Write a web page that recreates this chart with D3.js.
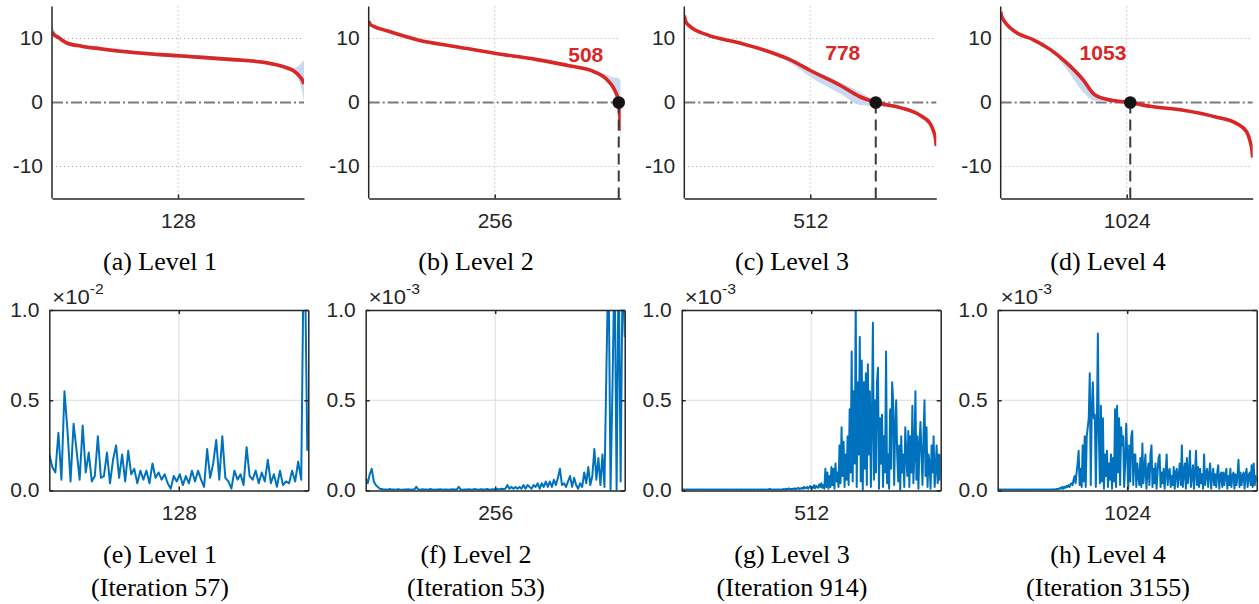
<!DOCTYPE html>
<html><head><meta charset="utf-8">
<script src="https://cdn.jsdelivr.net/npm/d3@7"></script>
<style>body{margin:0;background:#fff}svg{display:block}</style>
</head><body>
<svg id="c" width="1259" height="604"></svg>
<script>
// ---------- data ----------
const topLetters = ["(a)", "(b)", "(c)", "(d)"];
const bottomLetters = ["(e)", "(f)", "(g)", "(h)"];
const levelNames = ["Level 1", "Level 2", "Level 3", "Level 4"];
const iterations = [57, 53, 914, 3155];
const domainMax = [256, 512, 1024, 2048];
const midTicks = [128, 256, 512, 1024];
const crossings = [null, 508, 778, 1053];
const crossLabelX = [null, 441, 644, 831];
const crossLabelY = [null, 7.5, 7.8, 7.8];
const yTicksTop = [-10, 0, 10];
const yTicksBottom = [0, 0.5, 1.0];
const exponents = ["-2", "-3", "-3", "-3"];

// top row: sorted values (red) with band
const a_x = [0, 2, 7, 15, 30, 49, 83, 128, 184, 218, 235, 245, 251, 254, 256];
const a_y = [11.0, 10.6, 10.1, 9.3, 8.8, 8.4, 7.8, 7.3, 6.7, 6.2, 5.6, 5.0, 4.2, 3.6, 2.9];
const a_lo = [10.0, 10.2, 9.8, 9.0, 8.5, 8.1, 7.5, 7.0, 6.4, 5.9, 5.3, 4.6, 3.3, 1.8, 0.3];
const a_hi = [12.4, 11.4, 10.5, 9.6, 9.1, 8.7, 8.1, 7.6, 7.0, 6.5, 5.9, 5.4, 5.8, 6.3, 6.6];

const b_x = [0, 3, 10, 37, 104, 172, 255, 342, 410, 458, 485, 498, 504, 508, 510, 512];
const b_y = [12.7, 12.2, 11.9, 11.2, 9.7, 8.8, 7.7, 6.7, 5.7, 4.8, 3.5, 2.2, 1.2, 0, -2.0, -4.4];
const b_lo = [12.5, 12.0, 11.7, 11.0, 9.5, 8.6, 7.5, 6.5, 5.5, 4.6, 3.2, 1.8, 0.6, -1.2, -3.6, -7.3];
const b_hi = [12.9, 12.4, 12.1, 11.4, 9.9, 9.0, 7.9, 6.9, 5.9, 5.1, 4.3, 3.9, 3.9, 3.8, 3.6, 3.5];

const c_x = [0, 3, 8, 23, 91, 226, 362, 429, 512, 633, 714, 779, 877, 958, 999, 1012, 1020, 1024];
const c_y = [13.6, 13.0, 12.5, 11.9, 10.6, 9.3, 7.7, 6.7, 5.0, 2.7, 0.9, 0, -0.8, -2.0, -3.3, -4.4, -5.5, -6.8];
const c_lo = [13.4, 12.8, 12.3, 11.7, 10.4, 9.1, 7.5, 6.2, 4.0, 1.4, -0.4, -0.6, -1.0, -2.2, -3.5, -4.6, -5.7, -7.0];
const c_hi = [13.8, 13.2, 12.7, 12.1, 10.8, 9.5, 7.9, 6.9, 5.3, 3.2, 1.6, 0.3, -0.6, -1.8, -3.1, -4.2, -5.3, -6.6];

const d_x = [0, 5, 20, 49, 130, 266, 401, 536, 672, 753, 861, 1051, 1214, 1485, 1755, 1918, 1999, 2026, 2040, 2048];
const d_y = [14.2, 13.6, 13.0, 12.2, 10.9, 9.8, 8.3, 6.2, 3.5, 1.4, 0.5, 0, -0.6, -1.2, -2.3, -3.3, -4.6, -6.0, -7.2, -8.6];
const d_lo = [14.0, 13.4, 12.8, 12.0, 10.7, 9.6, 8.1, 5.2, 1.6, 0.3, 0.1, -0.15, -0.8, -1.4, -2.5, -3.5, -4.8, -6.2, -7.4, -8.8];
const d_hi = [14.4, 13.8, 13.2, 12.4, 11.1, 10.0, 8.5, 6.6, 3.8, 1.6, 0.7, 0.15, -0.4, -1.0, -2.1, -3.1, -4.4, -5.8, -7.0, -8.4];

// bottom row: values in displayed units (x 10^exponent), sampled every *_step
const e_step = 3;
const e_vals = [.20,.13,.10,.32,.06,.55,.33,.05,.37,.22,
 .06,.36,.10,.21,.05,.08,.30,.07,.08,.21,
 .04,.17,.25,.07,.20,.05,.22,.09,.12,.04,
 .11,.06,.11,.04,.15,.07,.10,.06,.09,.04,
 .01,.08,.05,.09,.03,.08,.04,.11,.05,.11,
 .06,.02,.23,.07,.15,.28,.06,.30,.07,.05,
 .01,.11,.06,.09,.03,.24,.08,.06,.11,.04,
 .10,.05,.17,.04,.09,.02,.11,.03,.05,.04,
 .11,.05,.16,.06,1.60,.22];

const f_step = 4;
const f_vals = [.07,.04,.09,.12,.05,.03,.02,.01,.008,.005,
 .006,.004,.008,.005,.006,.004,.007,.005,.004,.006,
 .005,.007,.004,.006,.005,.02,.006,.004,.007,.005,
 .006,.004,.008,.005,.004,.006,.005,.007,.004,.006,
 .005,.004,.006,.007,.005,.006,.02,.005,.004,.006,
 .005,.007,.004,.006,.008,.005,.004,.007,.006,.005,
 .008,.004,.006,.007,.005,.009,.006,.01,.008,.01,
 .03,.01,.02,.01,.02,.01,.02,.01,.03,.01,
 .03,.02,.01,.03,.02,.04,.01,.04,.02,.05,
 .02,.05,.02,.06,.03,.07,.12,.03,.04,.02,
 .05,.08,.02,.07,.03,.01,.04,.02,.10,.04,
 .13,.03,.08,.23,.06,.18,.03,.20,.02,.70,
 1.30,.00,.60,1.30,.00,1.30,.05,1.30,.85];

const g_step = 4;
const g_vals = [.005,.004,.006,.005,.004,.005,.006,.004,.005,.005,
 .004,.006,.005,.004,.005,.006,.005,.004,.006,.005,
 .005,.004,.006,.005,.004,.005,.006,.004,.005,.005,
 .004,.006,.005,.004,.005,.006,.005,.004,.006,.005,
 .005,.004,.006,.005,.004,.005,.006,.004,.005,.005,
 .004,.006,.005,.004,.005,.006,.005,.004,.006,.005,
 .005,.004,.006,.005,.004,.005,.006,.004,.005,.005,
 .004,.006,.005,.004,.005,.006,.005,.004,.006,.005,
 .005,.004,.006,.005,.004,.005,.006,.01,.005,.005,
 .004,.006,.005,.004,.005,.006,.005,.004,.006,.005,
 .006,.008,.005,.01,.006,.008,.012,.006,.009,.007,
 .01,.008,.012,.007,.01,.015,.008,.012,.01,.015,
 .01,.02,.012,.015,.02,.01,.018,.025,.012,.02,
 .015,.03,.012,.025,.02,.015,.035,.02,.04,.015,
 .03,.01,.12,.02,.10,.01,.08,.02,.13,.03,
 .12,.01,.15,.05,.10,.02,.25,.04,.35,.08,
 .27,.02,.20,.06,.30,.03,.45,.10,.77,.05,
 .55,.15,1.05,.02,.60,.20,.85,.05,.72,.00,
 .60,.12,.65,.03,.70,.20,.55,.02,.40,.93,
 .06,.50,.10,.60,.68,.01,.40,.15,.42,.02,
 .30,.10,.77,.04,.20,.01,.45,.12,.60,.50,
 .03,.35,.50,.20,.05,.25,.00,.30,.10,.20,
 .02,.35,.20,.08,.33,.02,.30,.10,.47,.04,
 .20,.55,.06,.30,.01,.25,.38,.20,.03,.30,
 .50,.08,.35,.02,.20,.15,.01,.25,.10,.30,
 .02,.12,.25,.04,.20,.06,.20];

const h_step = 8;
const h_vals = [.005,.004,.006,.005,.004,.005,.006,.004,.005,.005,
 .004,.006,.005,.004,.005,.006,.005,.004,.006,.005,
 .005,.004,.006,.005,.004,.005,.006,.004,.005,.005,
 .004,.006,.005,.004,.005,.006,.005,.004,.006,.005,
 .005,.004,.006,.005,.004,.005,.006,.004,.005,.005,
 .004,.006,.005,.006,.005,.007,.005,.006,.008,.006,
 .01,.01,.015,.01,.02,.01,.02,.015,.025,.02,
 .03,.02,.035,.04,.03,.06,.08,.04,.10,.15,
 .22,.03,.12,.02,.25,.05,.30,.02,.30,.35,
 .40,.65,.03,.45,.60,.40,.42,.02,.35,.87,
 .30,.04,.47,.05,.40,.01,.20,.08,.22,.02,
 .15,.06,.20,.01,.18,.05,.45,.02,.47,.10,
 .40,.03,.35,.25,.30,.02,.15,.37,.20,.01,
 .25,.05,.30,.33,.03,.20,.20,.02,.15,.08,
 .03,.18,.02,.26,.04,.12,.20,.01,.10,.15,
 .03,.20,.25,.02,.12,.04,.15,.01,.10,.18,
 .20,.02,.10,.04,.12,.01,.10,.20,.03,.10,
 .12,.02,.08,.03,.13,.01,.10,.12,.02,.09,
 .15,.03,.25,.02,.10,.15,.01,.18,.04,.10,
 .22,.02,.08,.14,.01,.10,.22,.03,.13,.02,
 .12,.04,.09,.01,.20,.03,.10,.12,.02,.09,
 .15,.01,.08,.12,.03,.09,.02,.10,.14,.01,
 .08,.10,.02,.10,.03,.09,.12,.01,.08,.03,
 .12,.02,.08,.10,.01,.09,.03,.08,.17,.02,
 .10,.03,.08,.10,.01,.09,.12,.02,.08,.10,
 .03,.14,.02,.15,.03,.08,.05];

const topSeries = [
  {x: a_x, y: a_y, lo: a_lo, hi: a_hi},
  {x: b_x, y: b_y, lo: b_lo, hi: b_hi},
  {x: c_x, y: c_y, lo: c_lo, hi: c_hi},
  {x: d_x, y: d_y, lo: d_lo, hi: d_hi}
];
const bottomSeries = [
  {step: e_step, vals: e_vals},
  {step: f_step, vals: f_vals},
  {step: g_step, vals: g_vals},
  {step: h_step, vals: h_vals}
];

// ---------- layout / style ----------
const SANS = "'Liberation Sans', Arial, Helvetica, sans-serif";
const SERIF = "'Liberation Serif', 'Times New Roman', Times, 'Nimbus Roman', 'FreeSerif', 'DejaVu Serif', serif";
const SX = 1.05;     // horizontal text stretch (sans)
const AX = "#262626";
const RED = "#d92626";
const BAND = "#c9daf0";
const BLUE = "#0072bd";

// pick caption size depending on which serif face is actually available
function textWidth(font, str) {
  const c = document.createElement("canvas").getContext("2d");
  c.font = font; return c.measureText(str).width;
}
const hasTimesLike = Math.abs(textWidth("40px 'Liberation Serif'", "(Iteration 3155) Level") -
                              textWidth("40px 'DejaVu Serif'", "(Iteration 3155) Level")) > 2;
const CAP_SIZE = hasTimesLike ? 25 : 23;
const SXS = hasTimesLike ? 1.04 : 1.02;

const topLeft = [52, 368.7, 684.3, 1000.7], topW = 252, topT = 6.5, topB = 198.5;
const botLeft = [49.3, 365.7, 681.7, 997.7], botW = 259, botT = 310, botB = 490.5;
const capCx = [160, 476, 792, 1108];

const svg = d3.select("#c");
const defs = svg.append("defs");

function styleAxisText(sel, dx) {
  sel.selectAll("text")
    .attr("font-family", SANS).attr("font-size", 20).attr("fill", AX)
    .attr("transform", `scale(${SX},1)`)
    .each(function () {
      const t = d3.select(this);
      if (dx !== undefined) t.attr("x", dx / SX);
    });
}

function caption(x, y, str) {
  svg.append("text")
    .attr("transform", `translate(${x},${y}) scale(${SXS},1)`)
    .attr("text-anchor", "middle")
    .attr("font-family", SERIF).attr("font-size", CAP_SIZE).attr("fill", "#000")
    .text(str);
}

// ---------- top row ----------
topSeries.forEach((s, i) => {
  const L = topLeft[i];
  const x = d3.scaleLinear().domain([0, domainMax[i]]).range([L, L + topW]);
  const y = d3.scaleLinear().domain([-15, 15]).range([topB, topT]);
  const g = svg.append("g");
  const cid = "clipT" + i;
  defs.append("clipPath").attr("id", cid).append("rect")
    .attr("x", L).attr("y", topT).attr("width", topW).attr("height", topB - topT);

  // dotted grid
  [10, -10].forEach(v => g.append("line")
    .attr("x1", L).attr("x2", L + topW).attr("y1", y(v)).attr("y2", y(v))
    .attr("stroke", "#a8a8a8").attr("stroke-width", 1).attr("stroke-dasharray", "1,3"));
  g.append("line").attr("x1", x(midTicks[i])).attr("x2", x(midTicks[i]))
    .attr("y1", topT).attr("y2", topB)
    .attr("stroke", "#a8a8a8").attr("stroke-width", 1).attr("stroke-dasharray", "1,3");

  // zero reference (dash-dot)
  g.append("line").attr("x1", L).attr("x2", L + topW).attr("y1", y(0)).attr("y2", y(0))
    .attr("stroke", "#7a7a7a").attr("stroke-width", 2).attr("stroke-dasharray", "11,3,2,3");

  const pts = s.x.map((xv, k) => ({x: xv, y: s.y[k], lo: s.lo[k], hi: s.hi[k]}));
  const pg = g.append("g").attr("clip-path", `url(#${cid})`);
  pg.append("path").datum(pts)
    .attr("d", d3.area().x(d => x(d.x)).y0(d => y(d.lo)).y1(d => y(d.hi)).curve(d3.curveMonotoneX))
    .attr("fill", BAND).attr("stroke", "none");

  // crossing vertical dashed line
  if (crossings[i] !== null) {
    g.append("line").attr("x1", x(crossings[i])).attr("x2", x(crossings[i]))
      .attr("y1", y(0)).attr("y2", topB)
      .attr("stroke", "#3a3a3a").attr("stroke-width", 2).attr("stroke-dasharray", "11,6");
  }

  pg.append("path").datum(pts)
    .attr("d", d3.line().x(d => x(d.x)).y(d => y(d.y)).curve(d3.curveMonotoneX))
    .attr("fill", "none").attr("stroke", RED).attr("stroke-width", 3.6)
    .attr("stroke-linecap", "butt");

  if (crossings[i] !== null) {
    g.append("circle").attr("cx", x(crossings[i])).attr("cy", y(0)).attr("r", 6.3)
      .attr("fill", "#141414");
    g.append("text")
      .attr("transform", `translate(${x(crossLabelX[i])},${y(crossLabelY[i])}) scale(${SX},1)`)
      .attr("text-anchor", "middle").attr("dy", "0.36em")
      .attr("font-family", SANS).attr("font-weight", "bold").attr("font-size", 20)
      .attr("fill", RED).text(String(crossings[i]));
  }

  // axes
  const ay = g.append("g").attr("transform", `translate(${L},0)`)
    .call(d3.axisLeft(y).tickValues(yTicksTop).tickSizeInner(0).tickSizeOuter(0)
      .tickPadding(9).tickFormat(d => String(d)));
  ay.select(".domain").attr("stroke", AX).attr("stroke-width", 1.5)
    .attr("d", `M0,${topT}V${topB}`);
  styleAxisText(ay, -9);

  const axb = g.append("g").attr("transform", `translate(0,${topB})`)
    .call(d3.axisBottom(x).tickValues([midTicks[i]]).tickSizeInner(-4).tickSizeOuter(0)
      .tickPadding(15).tickFormat(d => String(d)));
  axb.select(".domain").attr("stroke", AX).attr("stroke-width", 1.5);
  axb.selectAll(".tick line").attr("stroke", AX).attr("stroke-width", 1.5);
  styleAxisText(axb);

  caption(capCx[i], 270, `${topLetters[i]} ${levelNames[i]}`);
});

// ---------- bottom row ----------
bottomSeries.forEach((s, i) => {
  const L = botLeft[i];
  const x = d3.scaleLinear().domain([0, domainMax[i]]).range([L, L + botW]);
  const y = d3.scaleLinear().domain([0, 1]).range([botB, botT]);
  const g = svg.append("g");
  const cid = "clipB" + i;
  defs.append("clipPath").attr("id", cid).append("rect")
    .attr("x", L).attr("y", botT).attr("width", botW).attr("height", botB - botT);

  // grid
  g.append("line").attr("x1", L).attr("x2", L + botW).attr("y1", y(0.5)).attr("y2", y(0.5))
    .attr("stroke", "#dcdcdc").attr("stroke-width", 1);
  g.append("line").attr("x1", x(midTicks[i])).attr("x2", x(midTicks[i]))
    .attr("y1", botT).attr("y2", botB).attr("stroke", "#dcdcdc").attr("stroke-width", 1);

  g.append("g").attr("clip-path", `url(#${cid})`).append("path")
    .datum(s.vals)
    .attr("d", d3.line().x((d, k) => x(k * s.step)).y(d => y(d)))
    .attr("fill", "none").attr("stroke", BLUE).attr("stroke-width", 2)
    .attr("stroke-linejoin", "round");

  // axes (box)
  const ay = g.append("g").attr("transform", `translate(${L},0)`)
    .call(d3.axisLeft(y).tickValues(yTicksBottom).tickSizeInner(-4).tickSizeOuter(0)
      .tickPadding(10).tickFormat(d3.format(".1f")));
  ay.selectAll("line, .domain").attr("stroke", AX).attr("stroke-width", 1.5);
  styleAxisText(ay, -10);
  const ayr = g.append("g").attr("transform", `translate(${L + botW},0)`)
    .call(d3.axisRight(y).tickValues(yTicksBottom).tickSizeInner(-4).tickSizeOuter(0)
      .tickFormat(""));
  ayr.selectAll("line, .domain").attr("stroke", AX).attr("stroke-width", 1.5);

  const axb = g.append("g").attr("transform", `translate(0,${botB})`)
    .call(d3.axisBottom(x).tickValues([midTicks[i]]).tickSizeInner(-4).tickSizeOuter(0)
      .tickPadding(15).tickFormat(d => String(d)));
  axb.selectAll("line, .domain").attr("stroke", AX).attr("stroke-width", 1.5);
  styleAxisText(axb);
  const axt = g.append("g").attr("transform", `translate(0,${botT})`)
    .call(d3.axisTop(x).tickValues([midTicks[i]]).tickSizeInner(-4).tickSizeOuter(0)
      .tickFormat(""));
  axt.selectAll("line, .domain").attr("stroke", AX).attr("stroke-width", 1.5);

  // exponent label
  const ex = g.append("text")
    .attr("transform", `translate(${L + 3},${botT - 6}) scale(${SX},1)`)
    .attr("font-family", SANS).attr("font-size", 21).attr("fill", AX);
  ex.append("tspan").text("\u00d710");
  ex.append("tspan").attr("dy", -10).attr("font-size", 15).text(exponents[i]);

  caption(capCx[i], 563, `${bottomLetters[i]} ${levelNames[i]}`);
  caption(capCx[i], 596, `(Iteration ${iterations[i]})`);
});
</script>
</body></html>
